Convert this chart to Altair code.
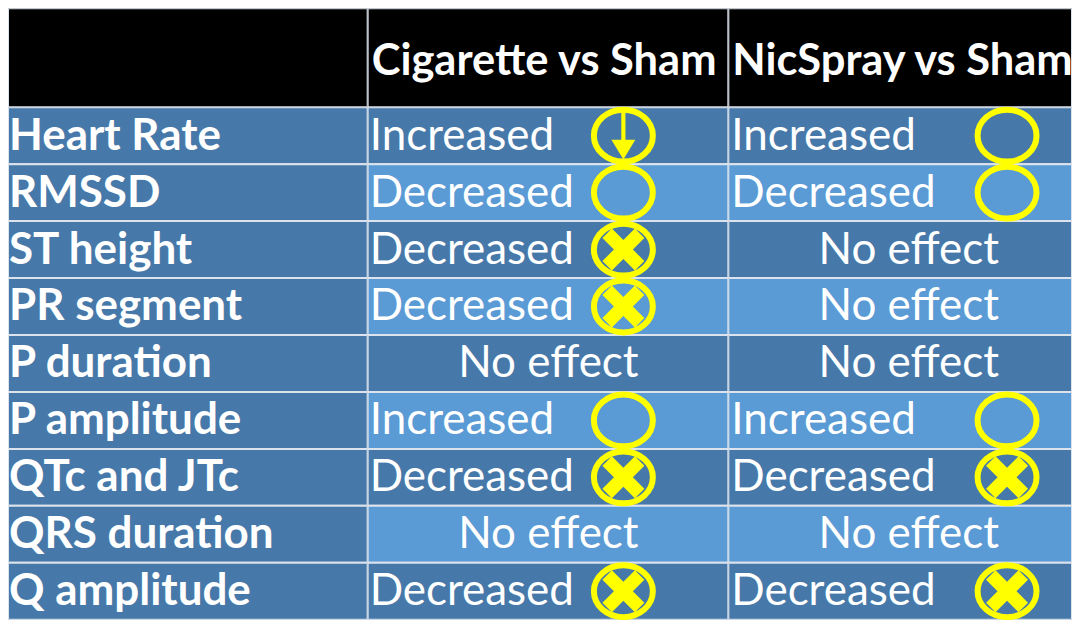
import math
import altair as alt
import pandas as pd

# ---------------- data ----------------
row_labels = ["Heart Rate", "RMSSD", "ST height", "PR segment", "P duration",
              "P amplitude", "QTc and JTc", "QRS duration", "Q amplitude"]
cigarette_effect = ["Increased", "Decreased", "Decreased", "Decreased", "No effect",
                    "Increased", "Decreased", "No effect", "Decreased"]
nicspray_effect = ["Increased", "Decreased", "No effect", "No effect", "No effect",
                   "Increased", "Decreased", "No effect", "Decreased"]
# "" = no marker, "ring" = empty ring, "arrow" = ring with down arrow, "cross" = ring with X
cigarette_marker = ["arrow", "ring", "cross", "cross", "", "ring", "cross", "", "cross"]
nicspray_marker = ["ring", "ring", "", "", "", "ring", "cross", "", "cross"]
column_keys = ["label", "cig", "nic"]
column_headers = ["", "Cigarette vs Sham", "NicSpray vs Sham"]

# ---------------- styles / layout ----------------
DARK = "#4679A9"
LIGHT = "#5A9AD5"
GRID = "#DCE3EC"
YELLOW = "#FFFF00"
FONT = "Lato"
COL_WIDTHS = [360, 361, 344]
HEADER_H = 99
BODY_H = 513
FS = 44
HFS = 43.5


def ellipse_path(ry=0.88):
    k = 0.5523
    return (f"M -1 0 C -1 {-k*ry:.4f} {-k:.4f} {-ry} 0 {-ry} "
            f"C {k:.4f} {-ry} 1 {-k*ry:.4f} 1 0 "
            f"C 1 {k*ry:.4f} {k:.4f} {ry} 0 {ry} "
            f"C {-k:.4f} {ry} -1 {k*ry:.4f} -1 0 Z")


def x_path(h=0.32):
    L = math.sqrt(2) - h
    pts = [(-h, -L), (h, -L), (h, -h), (L, -h), (L, h), (h, h), (h, L), (-h, L),
           (-h, h), (-L, h), (-L, -h), (-h, -h)]
    s = 1 / math.sqrt(2)
    rot = [((x - y) * s, (x + y) * s) for x, y in pts]
    return "M " + " L ".join(f"{x:.4f} {y:.4f}" for x, y in rot) + " Z"


ARROW_PATH = ("M -0.08 -1.08 L 0.08 -1.08 L 0.08 0.16 L 0.46 0.16 L 0 0.92 "
              "L -0.46 0.16 L -0.08 0.16 Z")
RING_PATH = ellipse_path()
CROSS_PATH = x_path()

# ---------------- tables ----------------
records = []
for i, lab in enumerate(row_labels):
    for key, text, marker in [("label", lab, ""),
                              ("cig", cigarette_effect[i], cigarette_marker[i]),
                              ("nic", nicspray_effect[i], nicspray_marker[i])]:
        band = "dark" if (key == "label" or i % 2 == 0) else "light"
        records.append(dict(row=lab, col=key, text=text, marker=marker, band=band))
body_df = pd.DataFrame(records)
header_df = pd.DataFrame({"row": ["header"] * 3, "col": column_keys, "text": column_headers})

# per-column placement (fractions of the column / pixel nudges)
TEXT_DX = {"label": 1, "cig": 2, "nic": 3}
CENTER_FRAC = {"cig": 0.501, "nic": 0.525}
RING_FRAC = {"cig": 0.709, "nic": 0.811}
HEAD_DX = {"label": 4, "cig": 4, "nic": 4}


def xscale(key):
    return alt.Scale(domain=[key], paddingInner=0, paddingOuter=0)


def xenc(key, bp):
    return alt.X("col:N", bandPosition=bp, scale=xscale(key), axis=None)


def body_panel(k, key):
    base = alt.Chart(body_df).transform_filter(alt.datum.col == key)
    y = alt.Y("row:N", sort=row_labels,
              scale=alt.Scale(domain=row_labels, paddingInner=0, paddingOuter=0), axis=None)
    rect = base.mark_rect(stroke=GRID, strokeWidth=2, clip=True).encode(
        x=alt.X("col:N", scale=xscale(key), axis=None),
        y=y,
        fill=alt.Fill("band:N", scale=alt.Scale(domain=["dark", "light"], range=[DARK, LIGHT]),
                      legend=None),
    )
    layers = [rect]
    weight = "bold" if key == "label" else "normal"
    left_text = base.transform_filter(alt.datum.text != "No effect").mark_text(
        align="left", baseline="middle", dx=TEXT_DX[key], dy=1, font=FONT,
        fontWeight=weight, fontSize=FS, color="white"
    ).encode(x=xenc(key, 0), y=y, text="text:N")
    layers.append(left_text)
    if key != "label":
        center_text = base.transform_filter(alt.datum.text == "No effect").mark_text(
            align="center", baseline="middle", dy=1, font=FONT, fontSize=FS, color="white"
        ).encode(x=xenc(key, CENTER_FRAC[key]), y=y, text="text:N")
        ring = base.transform_filter(alt.datum.marker != "").mark_point(
            shape=RING_PATH, size=59 * 59, filled=False, color=YELLOW, strokeWidth=6, opacity=1
        ).encode(x=xenc(key, RING_FRAC[key]), y=y)
        cross = base.transform_filter(alt.datum.marker == "cross").mark_point(
            shape=CROSS_PATH, size=42 * 42, filled=True, color=YELLOW, strokeWidth=0, opacity=1
        ).encode(x=xenc(key, RING_FRAC[key]), y=y)
        arrow = base.transform_filter(alt.datum.marker == "arrow").mark_point(
            shape=ARROW_PATH, size=52 * 52, filled=True, color=YELLOW, strokeWidth=0, opacity=1
        ).encode(x=xenc(key, RING_FRAC[key]), y=y)
        layers += [center_text, ring, cross, arrow]
    return alt.layer(*layers).properties(width=COL_WIDTHS[k], height=BODY_H)


def header_panel(k, key):
    base = alt.Chart(header_df).transform_filter(alt.datum.col == key)
    y = alt.Y("row:N", scale=alt.Scale(domain=["header"], paddingInner=0, paddingOuter=0), axis=None)
    rect = base.mark_rect(fill="black", stroke=GRID, strokeWidth=2, clip=True).encode(
        x=alt.X("col:N", scale=xscale(key), axis=None),
        y=y,
    )
    txt = base.mark_text(align="left", baseline="middle", dx=HEAD_DX[key], dy=4, font=FONT,
                         fontWeight="bold", fontSize=HFS, color="white").encode(
        x=xenc(key, 0), y=y, text="text:N")
    return alt.layer(rect, txt).properties(width=COL_WIDTHS[k], height=HEADER_H)


panels = ([header_panel(k, key) for k, key in enumerate(column_keys)]
          + [body_panel(k, key) for k, key in enumerate(column_keys)])

chart = alt.concat(*panels, columns=3, spacing=0, bounds="flush").resolve_scale(
    x="independent", y="independent"
).properties(padding=0, background="white").configure_view(stroke=None)

chart.save("out.html", embed_options={"renderer": "svg", "actions": False})
